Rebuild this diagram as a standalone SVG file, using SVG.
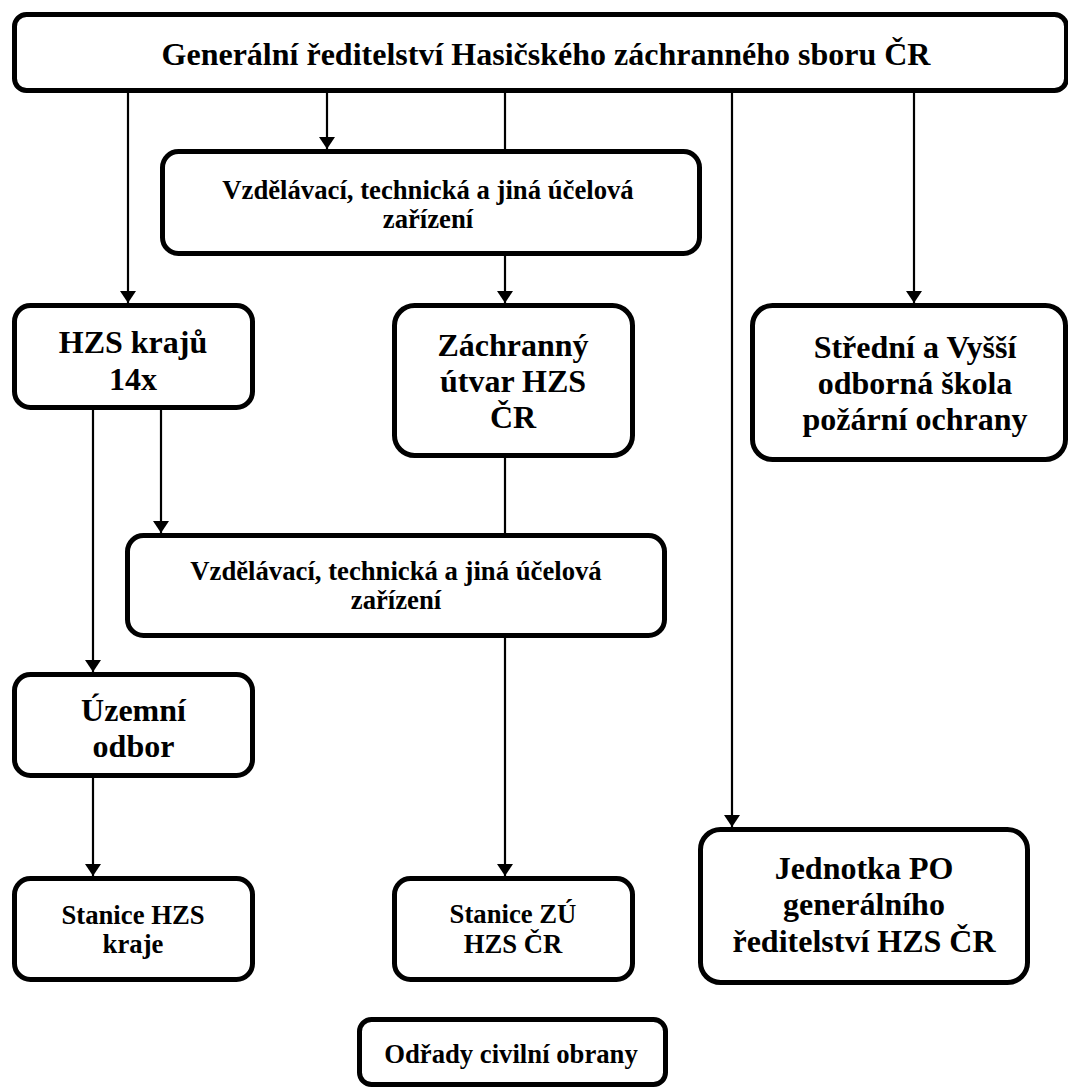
<svg xmlns="http://www.w3.org/2000/svg" width="1068" height="1088" viewBox="0 0 1068 1088">
<style>
.box{fill:#fff;stroke:#000;stroke-width:5}
.con{fill:none;stroke:#000;stroke-width:2.2}
.t{font-weight:bold;fill:#000;text-anchor:middle}
.l{font-size:32px}
.s{font-size:26.7px}
</style>
<defs>
<marker id="arr" viewBox="0 0 12 16" refX="12" refY="8" markerWidth="12" markerHeight="16" markerUnits="userSpaceOnUse" orient="auto">
<path d="M0,0 L12,8 L0,16 z" fill="#000"/>
</marker>
</defs>
<rect width="1068" height="1088" fill="#fff"/>
<g id="connectors">
<line class="con" x1="128" y1="93" x2="128" y2="303" marker-end="url(#arr)"/>
<line class="con" x1="327" y1="93" x2="327" y2="149" marker-end="url(#arr)"/>
<line class="con" x1="505" y1="93" x2="505" y2="303" marker-end="url(#arr)"/>
<line class="con" x1="732" y1="93" x2="732" y2="827" marker-end="url(#arr)"/>
<line class="con" x1="914" y1="93" x2="914" y2="303" marker-end="url(#arr)"/>
<line class="con" x1="93" y1="410" x2="93" y2="672" marker-end="url(#arr)"/>
<line class="con" x1="161" y1="410" x2="161" y2="533" marker-end="url(#arr)"/>
<line class="con" x1="505" y1="458" x2="505" y2="876" marker-end="url(#arr)"/>
<line class="con" x1="93" y1="778" x2="93" y2="876" marker-end="url(#arr)"/>
</g>
<g font-family="'Liberation Serif', 'Times New Roman', 'DejaVu Serif', serif">
<g id="n-gr">
<rect class="box" x="14.5" y="14.5" width="1052" height="76" rx="12"/>
<text class="t l" x="546" y="65">Generální ředitelství Hasičského záchranného sboru ČR</text>
</g>
<g id="n-vz1">
<rect class="box" x="162.5" y="151.5" width="537" height="102" rx="16"/>
<text class="t s" x="428" y="199">Vzdělávací, technická a jiná účelová</text>
<text class="t s" x="428" y="228">zařízení</text>
</g>
<g id="n-hzsk">
<rect class="box" x="14.5" y="305.5" width="238" height="102" rx="16"/>
<text class="t l" x="133" y="353">HZS krajů</text>
<text class="t l" x="133" y="390">14x</text>
</g>
<g id="n-zu">
<rect class="box" x="394.5" y="305.5" width="238" height="150" rx="20"/>
<text class="t l" x="513" y="356">Záchranný</text>
<text class="t l" x="513" y="392">útvar HZS</text>
<text class="t l" x="513" y="428">ČR</text>
</g>
<g id="n-skola">
<rect class="box" x="752.5" y="305.5" width="313" height="154" rx="20"/>
<text class="t l" x="915" y="358">Střední a Vyšší</text>
<text class="t l" x="915" y="394">odborná škola</text>
<text class="t l" x="915" y="430">požární ochrany</text>
</g>
<g id="n-vz2">
<rect class="box" x="127.5" y="535.5" width="537" height="100" rx="16"/>
<text class="t s" x="396" y="580">Vzdělávací, technická a jiná účelová</text>
<text class="t s" x="396" y="609">zařízení</text>
</g>
<g id="n-uzemni">
<rect class="box" x="14.5" y="674.5" width="238" height="101" rx="16"/>
<text class="t l" x="133.5" y="721">Územní</text>
<text class="t l" x="133.5" y="757">odbor</text>
</g>
<g id="n-stk">
<rect class="box" x="14.5" y="878.5" width="238" height="101" rx="16"/>
<text class="t s" x="133" y="924">Stanice HZS</text>
<text class="t s" x="133" y="953">kraje</text>
</g>
<g id="n-stzu">
<rect class="box" x="394.5" y="878.5" width="238" height="101" rx="16"/>
<text class="t s" x="513" y="923">Stanice ZÚ</text>
<text class="t s" x="513" y="953">HZS ČR</text>
</g>
<g id="n-jpo">
<rect class="box" x="700.5" y="829.5" width="327" height="153" rx="20"/>
<text class="t l" x="864" y="879">Jednotka PO</text>
<text class="t l" x="864" y="915">generálního</text>
<text class="t l" x="864" y="952">ředitelství HZS ČR</text>
</g>
<g id="n-co">
<rect class="box" x="359.5" y="1019.5" width="306" height="65" rx="12"/>
<text class="t s" x="511" y="1063">Odřady civilní obrany</text>
</g>
</g>
</svg>
